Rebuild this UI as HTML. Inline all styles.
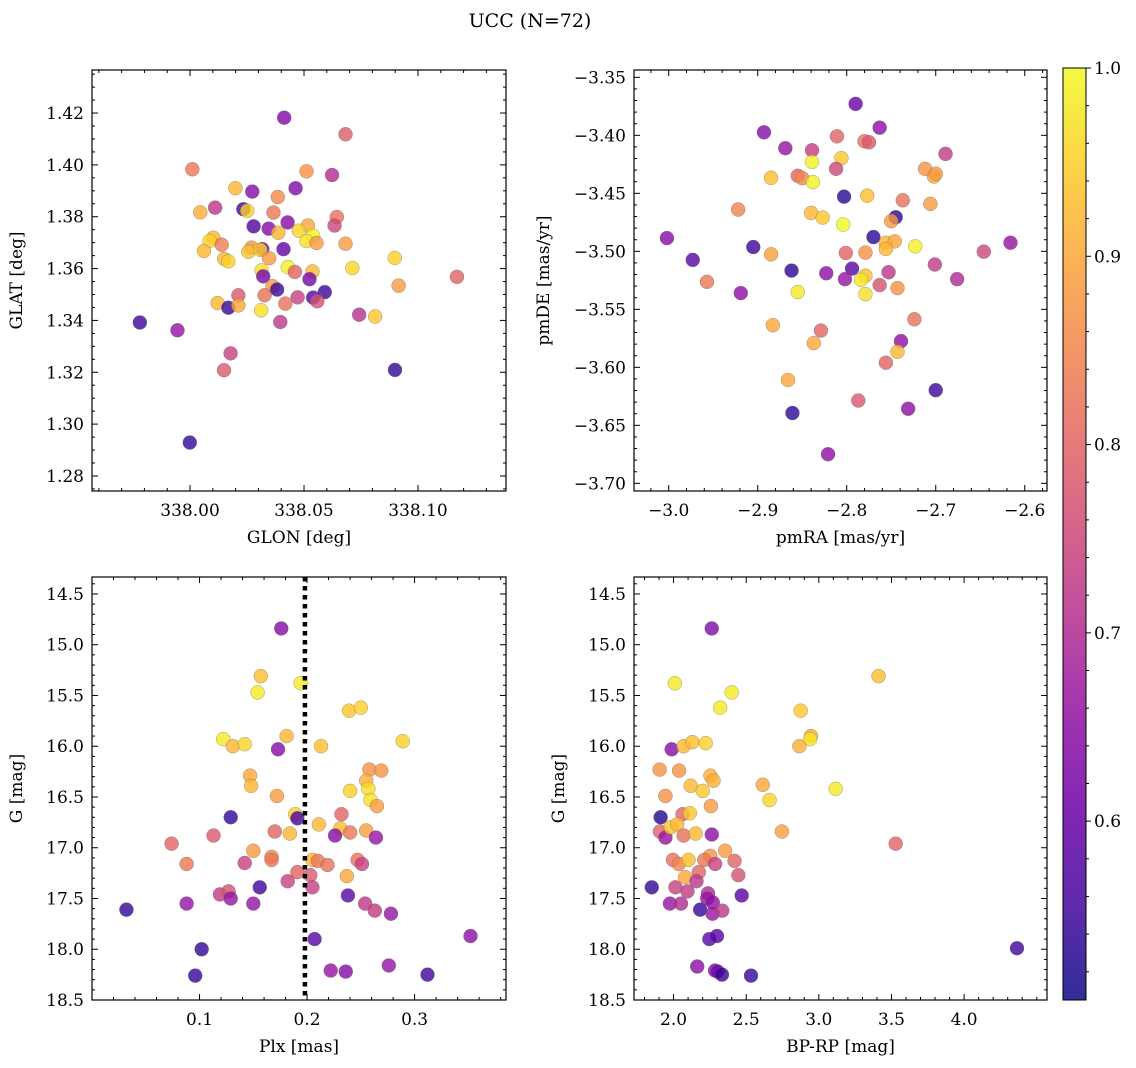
<!DOCTYPE html>
<html><head><meta charset="utf-8"><style>
body{margin:0;background:#fff}
svg{display:block;font-family:"DejaVu Serif","Liberation Serif",serif}
</style></head><body>
<svg id="fig" width="1136" height="1068" viewBox="0 0 1136 1068" xmlns="http://www.w3.org/2000/svg">
<defs><linearGradient id="cbgrad" x1="0" y1="1" x2="0" y2="0"></linearGradient></defs>
<text x="530" y="27" font-size="19" text-anchor="middle">UCC (N=72)</text>
</svg>
<script>
// ---- data: panel 1 (GLON, GLAT) ----
const glon=[338.0413,338.0682,338.0010,338.0511,338.0623,338.0463,338.0199,338.0273,338.0385,338.0045,338.0110,338.0234,338.0251,338.0366,338.0644,338.0634,338.0279,338.0345,338.0428,338.0517,338.0477,338.0387,338.0540,338.0511,338.0555,338.0682,338.0102,338.0086,338.0139,338.0061,338.0150,338.0168,338.0270,338.0256,338.0317,338.0308,338.0410,338.0347,338.0429,338.0460,338.0537,338.0314,338.0321,338.0524,338.0712,338.0898,338.0915,338.1171,338.0362,338.0382,338.0327,338.0212,338.0472,338.0418,338.0540,338.0591,338.0558,338.0121,338.0168,338.0212,338.0312,338.0396,338.0742,338.0812,337.9780,337.9945,338.0178,338.0149,338.0899,337.9999];
const glat=[1.4182,1.4118,1.3983,1.3975,1.3961,1.3910,1.3910,1.3897,1.3876,1.3817,1.3835,1.3829,1.3823,1.3816,1.3799,1.3766,1.3763,1.3754,1.3778,1.3766,1.3746,1.3738,1.3726,1.3706,1.3699,1.3696,1.3719,1.3707,1.3692,1.3668,1.3637,1.3628,1.3681,1.3665,1.3675,1.3672,1.3675,1.3640,1.3606,1.3587,1.3589,1.3593,1.3570,1.3559,1.3602,1.3641,1.3534,1.3568,1.3532,1.3519,1.3497,1.3497,1.3489,1.3465,1.3488,1.3509,1.3474,1.3467,1.3449,1.3458,1.3439,1.3394,1.3422,1.3415,1.3392,1.3362,1.3273,1.3208,1.3209,1.2929];
const prob1=[0.63,0.79,0.83,0.87,0.70,0.63,0.92,0.64,0.86,0.91,0.72,0.55,0.95,0.83,0.82,0.75,0.57,0.64,0.64,0.90,0.96,0.92,1.0,0.97,0.88,0.88,0.92,0.96,0.84,0.92,0.92,0.95,0.87,0.93,0.62,0.96,0.60,0.88,0.99,0.80,0.92,0.97,0.62,0.62,0.96,0.95,0.88,0.80,0.88,0.55,0.82,0.78,0.74,0.82,0.57,0.55,0.77,0.92,0.54,0.90,0.97,0.72,0.71,0.94,0.55,0.66,0.74,0.78,0.54,0.54];
// ---- panel 2 (pmRA, pmDE) ----
const pmra=[-2.790,-2.893,-2.763,-2.811,-2.869,-2.839,-2.780,-2.775,-2.689,-2.839,-2.806,-2.812,-2.885,-2.855,-2.850,-2.838,-2.712,-2.702,-2.700,-2.803,-2.777,-2.737,-2.706,-2.922,-2.840,-2.827,-2.804,-2.745,-2.750,-3.002,-2.905,-2.770,-2.756,-2.746,-2.756,-2.723,-2.616,-2.646,-2.885,-2.801,-2.779,-2.973,-2.701,-2.862,-2.823,-2.794,-2.779,-2.784,-2.753,-2.802,-2.676,-2.957,-2.763,-2.743,-2.919,-2.855,-2.779,-2.724,-2.883,-2.829,-2.837,-2.739,-2.743,-2.756,-2.866,-2.700,-2.787,-2.861,-2.731,-2.821];
const pmde=[-3.3729,-3.3974,-3.3934,-3.4009,-3.4111,-3.4129,-3.4051,-3.4060,-3.4160,-3.4229,-3.4197,-3.4289,-3.4366,-3.4349,-3.4369,-3.4403,-3.4289,-3.4354,-3.4331,-3.4529,-3.4520,-3.4560,-3.4591,-3.4640,-3.4669,-3.4709,-3.4769,-3.4706,-3.4740,-3.4886,-3.4963,-3.4877,-3.4926,-3.4914,-3.4980,-3.4957,-3.4926,-3.5003,-3.5026,-3.5014,-3.5011,-3.5074,-3.5114,-3.5166,-3.5189,-3.5149,-3.5211,-3.5246,-3.5180,-3.5240,-3.5240,-3.5263,-3.5291,-3.5317,-3.5360,-3.5351,-3.5369,-3.5586,-3.5637,-3.5683,-3.5791,-3.5774,-3.5866,-3.5960,-3.6109,-3.6197,-3.6286,-3.6394,-3.6357,-3.6749];
const prob2=[0.60,0.64,0.65,0.80,0.66,0.73,0.82,0.78,0.73,0.99,0.94,0.75,0.93,0.80,0.86,0.99,0.87,0.90,0.88,0.53,0.93,0.82,0.88,0.85,0.92,0.94,1.0,0.53,0.88,0.64,0.55,0.53,0.92,0.90,0.92,0.99,0.66,0.75,0.89,0.80,0.87,0.58,0.73,0.53,0.65,0.58,0.93,0.98,0.72,0.66,0.70,0.83,0.77,0.87,0.65,0.98,0.97,0.82,0.90,0.80,0.90,0.65,0.92,0.80,0.90,0.55,0.78,0.53,0.65,0.65];
// ---- panel 3 (Plx, G) ----
const plx=[0.176,0.157,0.154,0.194,0.239,0.250,0.122,0.131,0.142,0.181,0.173,0.213,0.289,0.258,0.269,0.255,0.257,0.240,0.259,0.265,0.147,0.148,0.172,0.129,0.189,0.191,0.232,0.211,0.231,0.240,0.226,0.255,0.264,0.170,0.184,0.113,0.074,0.150,0.167,0.167,0.205,0.210,0.219,0.247,0.251,0.088,0.142,0.191,0.203,0.237,0.182,0.205,0.156,0.119,0.127,0.129,0.088,0.150,0.238,0.254,0.263,0.278,0.032,0.207,0.352,0.102,0.096,0.222,0.236,0.276,0.312];
const gmag3=[14.84,15.31,15.47,15.38,15.65,15.62,15.93,16.00,15.98,15.90,16.03,16.00,15.95,16.23,16.24,16.34,16.42,16.44,16.53,16.59,16.29,16.39,16.49,16.70,16.67,16.71,16.67,16.77,16.81,16.85,16.88,16.83,16.90,16.84,16.86,16.88,16.96,17.03,17.09,17.12,17.12,17.13,17.17,17.12,17.16,17.16,17.15,17.24,17.27,17.28,17.33,17.39,17.39,17.46,17.43,17.50,17.55,17.55,17.47,17.55,17.62,17.65,17.61,17.90,17.87,18.00,18.26,18.21,18.22,18.16,18.25];
const prob3=[0.64,0.93,0.98,0.98,0.94,0.95,0.98,0.92,0.96,0.92,0.64,0.93,0.95,0.87,0.87,0.91,0.97,0.95,0.97,0.89,0.90,0.92,0.88,0.54,0.95,0.56,0.80,0.92,0.93,0.83,0.64,0.89,0.66,0.80,0.92,0.78,0.80,0.88,0.86,0.83,0.92,0.83,0.82,0.82,0.74,0.83,0.74,0.80,0.78,0.90,0.74,0.74,0.55,0.73,0.77,0.66,0.66,0.66,0.58,0.72,0.73,0.66,0.54,0.58,0.65,0.54,0.54,0.66,0.64,0.66,0.55];
const plxLine=[0.198];
// ---- panel 4 (BP-RP, G) ----
const bprp=[2.263,2.009,2.400,2.321,3.411,2.875,2.946,2.940,2.866,1.987,2.069,2.129,2.221,1.904,2.038,2.254,2.275,2.118,2.201,2.614,2.661,3.116,1.944,2.257,1.911,2.062,2.112,1.906,1.944,1.980,2.025,2.069,2.152,2.263,2.746,3.529,2.355,1.996,2.036,2.103,2.252,2.212,2.286,2.420,2.174,2.080,2.446,2.158,2.013,2.096,1.850,2.237,2.232,2.270,2.469,1.975,2.051,2.183,2.268,2.335,2.246,2.299,4.364,2.163,2.286,2.304,2.333,2.533];
const gmag4=[14.84,15.38,15.47,15.62,15.31,15.65,15.90,15.93,16.00,16.03,16.00,15.96,15.97,16.23,16.24,16.29,16.34,16.39,16.44,16.38,16.53,16.42,16.49,16.59,16.70,16.67,16.66,16.84,16.90,16.80,16.77,16.88,16.86,16.87,16.84,16.96,17.03,17.12,17.16,17.12,17.08,17.12,17.16,17.13,17.24,17.29,17.27,17.33,17.39,17.43,17.39,17.45,17.50,17.54,17.47,17.55,17.55,17.61,17.65,17.62,17.90,17.87,17.99,18.17,18.21,18.22,18.25,18.26];
const prob4=[0.63,0.98,0.98,0.98,0.93,0.94,0.90,0.98,0.91,0.64,0.92,0.93,0.95,0.87,0.87,0.91,0.91,0.92,0.94,0.90,0.96,0.98,0.87,0.88,0.52,0.80,0.94,0.80,0.66,0.94,0.92,0.82,0.92,0.65,0.89,0.80,0.88,0.82,0.85,0.93,0.87,0.83,0.74,0.80,0.80,0.90,0.77,0.72,0.74,0.73,0.54,0.70,0.66,0.65,0.58,0.66,0.70,0.54,0.66,0.72,0.58,0.58,0.55,0.65,0.64,0.62,0.54,0.54];
// ---- tick labels ----
const ticks1x=[338.00,338.05,338.10], ticks1xLab=["338.00","338.05","338.10"];
const ticks1y=[1.28,1.30,1.32,1.34,1.36,1.38,1.40,1.42], ticks1yLab=["1.28","1.30","1.32","1.34","1.36","1.38","1.40","1.42"];
const ticks2x=[-3.0,-2.9,-2.8,-2.7,-2.6], ticks2xLab=["\u22123.0","\u22122.9","\u22122.8","\u22122.7","\u22122.6"];
const ticks2y=[-3.35,-3.40,-3.45,-3.50,-3.55,-3.60,-3.65,-3.70], ticks2yLab=["\u22123.35","\u22123.40","\u22123.45","\u22123.50","\u22123.55","\u22123.60","\u22123.65","\u22123.70"];
const ticks3x=[0.1,0.2,0.3], ticks3xLab=["0.1","0.2","0.3"];
const ticksGy=[14.5,15.0,15.5,16.0,16.5,17.0,17.5,18.0,18.5], ticksGyLab=["14.5","15.0","15.5","16.0","16.5","17.0","17.5","18.0","18.5"];
const ticks4x=[2.0,2.5,3.0,3.5,4.0], ticks4xLab=["2.0","2.5","3.0","3.5","4.0"];
const cbTicks=[0.6,0.7,0.8,0.9,1.0], cbTickLab=["0.6","0.7","0.8","0.9","1.0"];

const NS="http://www.w3.org/2000/svg";
const svg=document.getElementById('fig');
function mk(tag,attrs,parent){const e=document.createElementNS(NS,tag);for(const k in attrs)e.setAttribute(k,attrs[k]);(parent||svg).appendChild(e);return e;}
const stops=[[13,8,135],[65,4,157],[106,0,168],[143,13,164],[177,42,144],[204,71,120],[225,100,98],[242,132,75],[252,166,54],[252,206,37],[240,249,33]];
function plasma(t){t=Math.max(0,Math.min(1,t));const p=t*10,i=Math.min(9,Math.floor(p)),f=p-i;const a=stops[i],b=stops[i+1];return `rgb(${Math.round(a[0]+(b[0]-a[0])*f)},${Math.round(a[1]+(b[1]-a[1])*f)},${Math.round(a[2]+(b[2]-a[2])*f)})`;}
const CMIN=0.505,CMAX=1.0;
function cnorm(v){return (v-CMIN)/(CMAX-CMIN);}
const FS=17;

function panel(name,box,xd,yd,xt,xtl,xminor,yt,ytl,yminor,xlab,ylab,ylabX){
  const [L,T,R,B]=box;
  const sx=v=>L+(v-xd[0])/(xd[1]-xd[0])*(R-L);
  const sy=v=>T+(v-yd[0])/(yd[1]-yd[0])*(B-T);
  const g=mk('g',{});
  
  
  const lo=Math.min(xd[0],xd[1]),hi=Math.max(xd[0],xd[1]);
  for(let v=Math.ceil(lo/xminor-1e-6)*xminor;v<=hi+1e-9;v+=xminor){
    const major=xt.some(t=>Math.abs(t-v)<xminor/10);const len=major?6:3;const x=sx(v);
    mk('line',{x1:x,x2:x,y1:B,y2:B-len,stroke:'#000','stroke-width':1},g);
    mk('line',{x1:x,x2:x,y1:T,y2:T+len,stroke:'#000','stroke-width':1},g);
  }
  const ylo=Math.min(yd[0],yd[1]),yhi=Math.max(yd[0],yd[1]);
  for(let v=Math.ceil(ylo/yminor-1e-6)*yminor;v<=yhi+1e-9;v+=yminor){
    const major=yt.some(t=>Math.abs(t-v)<yminor/10);const len=major?6:3;const y=sy(v);
    mk('line',{x1:L,x2:L+len,y1:y,y2:y,stroke:'#000','stroke-width':1},g);
    mk('line',{x1:R,x2:R-len,y1:y,y2:y,stroke:'#000','stroke-width':1},g);
  }
  xt.forEach((v,i)=>{const t=mk('text',{x:sx(v),y:B+25,'font-size':FS,'text-anchor':'middle'},g);t.textContent=xtl[i];
    
    });
  yt.forEach((v,i)=>{const t=mk('text',{x:L-8,y:sy(v)+6,'font-size':FS,'text-anchor':'end'},g);t.textContent=ytl[i];
    
    });
  const xl=mk('text',{x:(L+R)/2,y:B+52,'font-size':FS,'text-anchor':'middle'},g);xl.textContent=xlab;
  
  
  const cy=(T+B)/2;
  const yl=mk('text',{x:ylabX,y:cy,'font-size':FS,'text-anchor':'middle',transform:`rotate(-90 ${ylabX} ${cy})`},g);yl.textContent=ylab;
  
  
  return {g,sx,sy,box};
}
function frame(p){const [L,T,R,B]=p.box;const r=mk('rect',{x:L,y:T,width:R-L,height:B-T,fill:'none',stroke:'#000','stroke-width':1.2},p.g);
  
  }
function scatter(p,xs,ys,cs){
  for(let i=0;i<xs.length;i++){
    const c=mk('circle',{cx:p.sx(xs[i]),cy:p.sy(ys[i]),r:7,fill:plasma(cnorm(cs[i])),'fill-opacity':0.8,stroke:'#666','stroke-opacity':0.6,'stroke-width':0.5},p.g);
    
    
  }
}
const p1=panel('panel-glon-glat',[92,70,506,491],[337.957,338.1386],[1.4366,1.2742],ticks1x,ticks1xLab,0.01,ticks1y,ticks1yLab,0.005,'GLON [deg]','GLAT [deg]',22);
scatter(p1,glon,glat,prob1);frame(p1);
const p2=panel('panel-pm',[634,70,1047,491],[-3.039,-2.575],[-3.3437,-3.7066],ticks2x,ticks2xLab,0.02,ticks2y,ticks2yLab,0.01,'pmRA [mas/yr]','pmDE [mas/yr]',549);
scatter(p2,pmra,pmde,prob2);frame(p2);
const p3=panel('panel-plx-g',[92,577,506,1000],[0.0,0.385],[14.333,18.5],ticks3x,ticks3xLab,0.02,ticksGy,ticksGyLab,0.1,'Plx [mas]','G [mag]',22);
scatter(p3,plx,gmag3,prob3);
plxLine.forEach(v=>{const l=mk('line',{x1:p3.sx(v),x2:p3.sx(v),y1:577,y2:1000,stroke:'#000','stroke-width':4.5,'stroke-dasharray':'4.5 4.5'},p3.g);
  
  });
frame(p3);
const p4=panel('panel-cmd',[634,577,1047,1000],[1.7277,4.5706],[14.333,18.5],ticks4x,ticks4xLab,0.1,ticksGy,ticksGyLab,0.1,'BP-RP [mag]','G [mag]',564);
scatter(p4,bprp,gmag4,prob4);frame(p4);

// colorbar
const grad=document.getElementById('cbgrad');
for(let k=0;k<=20;k++){mk('stop',{offset:k/20,'stop-color':plasma(k/20),'stop-opacity':0.85},grad);}
const cbL=1063,cbR=1086,cbT=68,cbB=1000;
const cy=v=>cbB-(v-CMIN)/(CMAX-CMIN)*(cbB-cbT);
const cb=mk('g',{});


mk('rect',{x:cbL,y:cbT,width:cbR-cbL,height:cbB-cbT,fill:'url(#cbgrad)',stroke:'#000','stroke-width':1},cb);
for(let v=0.52;v<=1.0001;v+=0.02){const y=cy(v);const major=cbTicks.some(t=>Math.abs(t-v)<0.005);
  mk('line',{x1:cbR,x2:cbR+(major?5:3),y1:y,y2:y,stroke:'#000','stroke-width':1},cb);}
cbTicks.forEach((v,i)=>{const t=mk('text',{x:cbR+8,y:cy(v)+6,'font-size':FS},cb);t.textContent=cbTickLab[i];
  
  });
</script>
</body></html>
